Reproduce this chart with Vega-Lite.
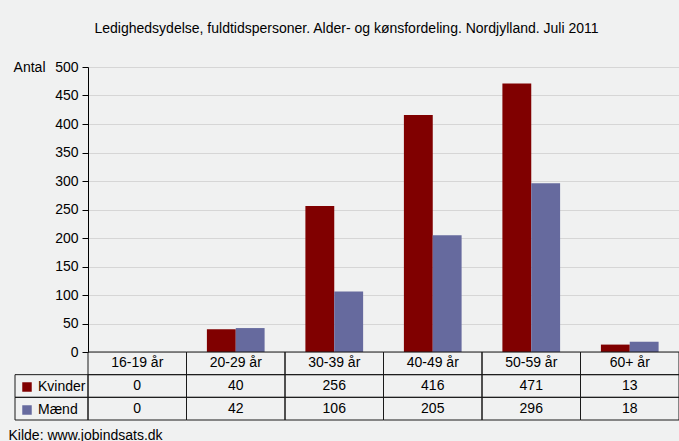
{
  "$schema": "https://vega.github.io/schema/vega-lite/v6.json",
  "width": 591,
  "height": 285,
  "autosize": {"type": "none"},
  "padding": {"left": 88, "top": 67, "right": 0, "bottom": 89},
  "background": "#f0f1f1",
  "title": {
    "text": "Ledighedsydelse, fuldtidspersoner. Alder- og kønsfordeling. Nordjylland. Juli 2011",
    "anchor": "middle",
    "frame": "group",
    "dx": -37,
    "offset": 13,
    "baseline": "alphabetic",
    "fontSize": 14,
    "fontWeight": "normal",
    "color": "#000000"
  },
  "config": {
    "font": "Liberation Sans",
    "view": {"stroke": null},
    "legend": {
      "orient": "none",
      "legendX": -68,
      "legendY": 313,
      "direction": "vertical",
      "symbolType": "square",
      "symbolSize": 90,
      "symbolStrokeWidth": 0,
      "symbolOpacity": 1,
      "labelFontSize": 14,
      "labelColor": "#000000",
      "labelOffset": 4,
      "rowPadding": 9,
      "padding": 0
    }
  },
  "datasets": {
    "main": [
      {"age": "16-19 år", "gender": "Kvinder", "value": 0},
      {"age": "16-19 år", "gender": "Mænd", "value": 0},
      {"age": "20-29 år", "gender": "Kvinder", "value": 40},
      {"age": "20-29 år", "gender": "Mænd", "value": 42},
      {"age": "30-39 år", "gender": "Kvinder", "value": 256},
      {"age": "30-39 år", "gender": "Mænd", "value": 106},
      {"age": "40-49 år", "gender": "Kvinder", "value": 416},
      {"age": "40-49 år", "gender": "Mænd", "value": 205},
      {"age": "50-59 år", "gender": "Kvinder", "value": 471},
      {"age": "50-59 år", "gender": "Mænd", "value": 296},
      {"age": "60+ år", "gender": "Kvinder", "value": 13},
      {"age": "60+ år", "gender": "Mænd", "value": 18}
    ]
  },
  "data": {"name": "main"},
  "resolve": {"scale": {"x": "independent", "y": "independent"}},
  "layer": [
    {
      "mark": {"type": "bar"},
      "encoding": {
        "x": {"field": "age", "type": "nominal", "scale": {"domain": ["16-19 år", "20-29 år", "30-39 år", "40-49 år", "50-59 år", "60+ år"], "paddingInner": 0, "paddingOuter": 0}, "axis": null},
        "xOffset": {"field": "gender", "type": "nominal", "scale": {"domain": ["Kvinder", "Mænd"], "paddingInner": 0, "paddingOuter": 0.707}},
        "y": {
          "field": "value", "type": "quantitative",
          "scale": {"domain": [0, 500]},
          "axis": {
            "values": [0, 50, 100, 150, 200, 250, 300, 350, 400, 450, 500],
            "grid": true, "gridColor": "#d6d6d6", "gridWidth": 1,
            "domainColor": "#000000", "tickColor": "#000000", "tickSize": 6,
            "labelFontSize": 14, "labelColor": "#000000", "labelPadding": 4,
            "title": "Antal", "titleAngle": 0, "titleX": -43, "titleY": 0,
            "titleAlign": "right", "titleBaseline": "middle",
            "titleFontSize": 14, "titleFontWeight": "normal", "titleColor": "#000000"
          }
        },
        "color": {"field": "gender", "type": "nominal", "scale": {"domain": ["Kvinder", "Mænd"], "range": ["#800000", "#666a9e"]}, "legend": {"title": null}}
      }
    },
    {
      "transform": [{"filter": "datum.gender == 'Kvinder'"}],
      "mark": {"type": "rect", "fill": null, "fillOpacity": 0, "stroke": "#1a1a1a", "strokeWidth": 1},
      "encoding": {
        "x": {"field": "age", "type": "nominal", "scale": {"domain": ["16-19 år", "20-29 år", "30-39 år", "40-49 år", "50-59 år", "60+ år"], "paddingInner": 0, "paddingOuter": 0}, "axis": null},
        "y": {"datum": "header", "type": "nominal", "scale": {"domain": ["header", "Kvinder", "Mænd"], "range": [285, 353], "paddingInner": 0, "paddingOuter": 0}, "axis": null}
      }
    },
    {
      "mark": {"type": "rect", "fill": null, "fillOpacity": 0, "stroke": "#1a1a1a", "strokeWidth": 1},
      "encoding": {
        "x": {"field": "age", "type": "nominal", "scale": {"domain": ["16-19 år", "20-29 år", "30-39 år", "40-49 år", "50-59 år", "60+ år"], "paddingInner": 0, "paddingOuter": 0},
          "axis": {"orient": "bottom", "labels": false, "ticks": false, "domain": false, "grid": false,
            "title": "Kilde: www.jobindsats.dk", "titleX": -80, "titleY": 87, "titleAnchor": "start", "titleAlign": "left", "titleBaseline": "alphabetic",
            "titleFontSize": 14, "titleFontWeight": "normal", "titleColor": "#000000"}},
        "y": {"field": "gender", "type": "nominal", "scale": {"domain": ["header", "Kvinder", "Mænd"], "range": [285, 353], "paddingInner": 0, "paddingOuter": 0}, "axis": null}
      }
    },
    {
      "transform": [{"filter": "datum.age == '16-19 år'"}],
      "mark": {"type": "rect", "fill": null, "fillOpacity": 0, "stroke": "#1a1a1a", "strokeWidth": 1},
      "encoding": {
        "x": {"datum": "lbl", "type": "nominal", "scale": {"domain": ["lbl"], "range": [-73, 0], "paddingInner": 0, "paddingOuter": 0}, "axis": null},
        "y": {"field": "gender", "type": "nominal", "scale": {"domain": ["header", "Kvinder", "Mænd"], "range": [285, 353], "paddingInner": 0, "paddingOuter": 0}, "axis": null}
      }
    },
    {
      "transform": [{"filter": "datum.gender == 'Kvinder'"}],
      "mark": {"type": "text", "fontSize": 14, "color": "#000000", "baseline": "middle", "align": "center"},
      "encoding": {
        "x": {"field": "age", "type": "nominal", "scale": {"domain": ["16-19 år", "20-29 år", "30-39 år", "40-49 år", "50-59 år", "60+ år"], "paddingInner": 0, "paddingOuter": 0}, "axis": null},
        "y": {"datum": "header", "type": "nominal", "scale": {"domain": ["header", "Kvinder", "Mænd"], "range": [285, 353], "paddingInner": 0, "paddingOuter": 0}, "axis": null},
        "text": {"field": "age"}
      }
    },
    {
      "mark": {"type": "text", "fontSize": 14, "color": "#000000", "baseline": "middle", "align": "center"},
      "encoding": {
        "x": {"field": "age", "type": "nominal", "scale": {"domain": ["16-19 år", "20-29 år", "30-39 år", "40-49 år", "50-59 år", "60+ år"], "paddingInner": 0, "paddingOuter": 0}, "axis": null},
        "y": {"field": "gender", "type": "nominal", "scale": {"domain": ["header", "Kvinder", "Mænd"], "range": [285, 353], "paddingInner": 0, "paddingOuter": 0}, "axis": null},
        "text": {"field": "value", "type": "quantitative"}
      }
    }
  ]
}
